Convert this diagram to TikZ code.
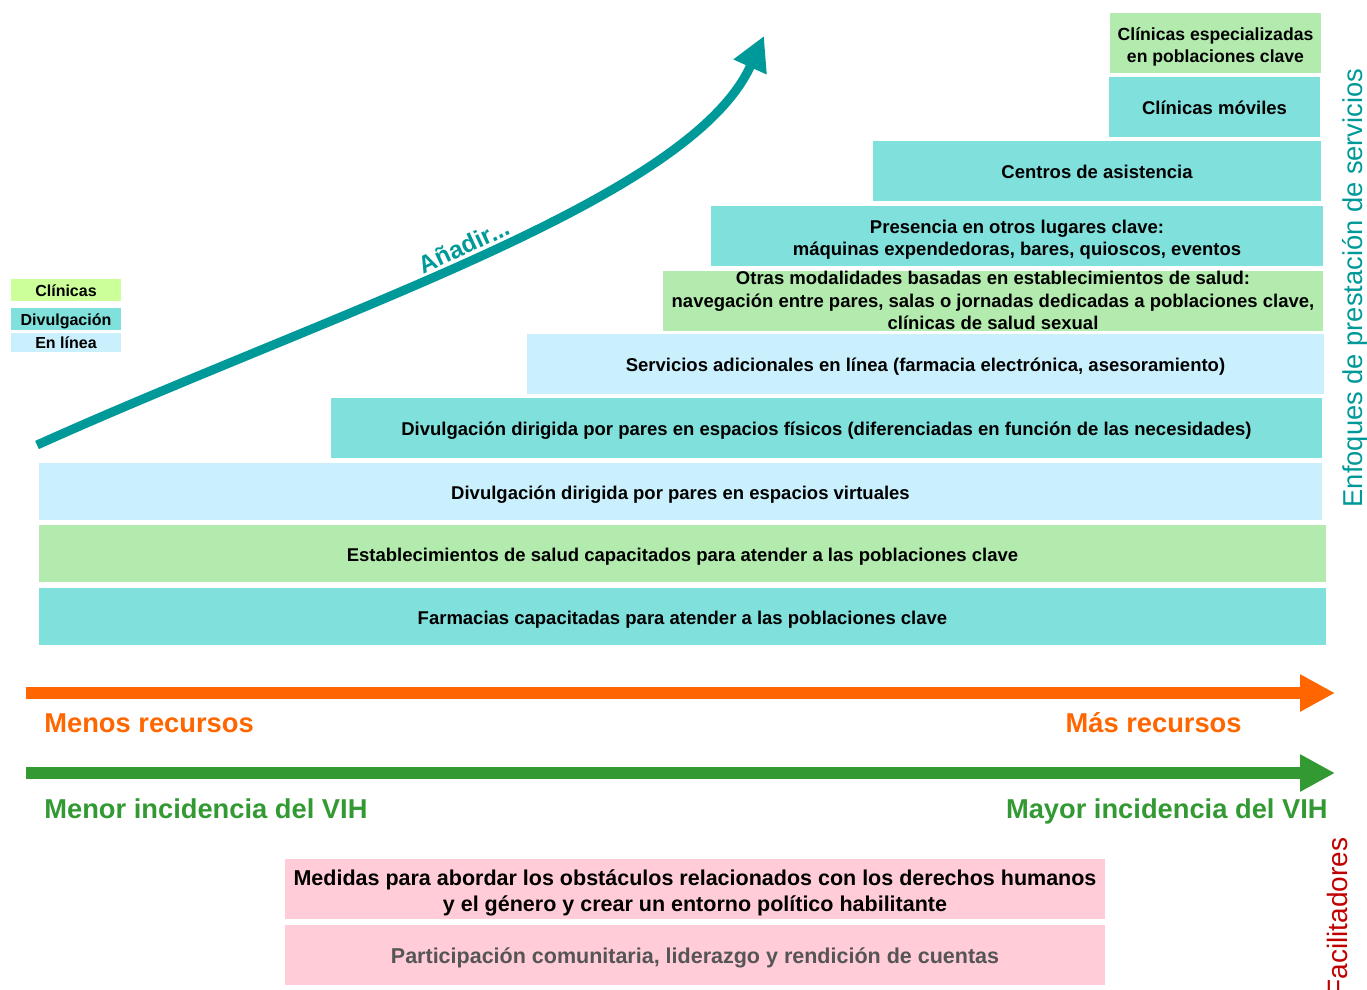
\documentclass[tikz,border=0pt]{standalone}
\usepackage{fontspec}
\setmainfont{Liberation Sans}
\usetikzlibrary{arrows.meta}

\definecolor{turq}{RGB}{128,224,220}
\definecolor{leaf}{RGB}{179,235,174}
\definecolor{sky}{RGB}{202,240,253}
\definecolor{lime}{RGB}{204,255,153}
\definecolor{blush}{RGB}{255,204,216}
\definecolor{teal}{RGB}{0,153,153}
\definecolor{tangerine}{RGB}{255,102,0}
\definecolor{grass}{RGB}{51,153,51}
\definecolor{crimson}{RGB}{192,0,0}

\tikzset{every picture/.style={line width=0.75pt}}
\tikzset{
  tier/.style={inner sep=0pt, align=center, font=\bfseries\fontsize{18.5}{22.5}\selectfont},
  oneline/.style={text height=15pt, text depth=0pt},
  key/.style={inner sep=0pt, minimum width=110pt, text height=12pt, text depth=0pt, font=\bfseries\fontsize{16}{19}\selectfont},
  enabler/.style={inner sep=0pt, align=center, fill=blush, minimum width=820pt, minimum height=60pt, text depth=0pt, font=\bfseries\fontsize{21.5}{26}\selectfont},
  scale label/.style={inner sep=0pt, font=\bfseries\fontsize{27.3}{32}\selectfont},
  bigarrow/.style={line width=12pt, -{Triangle[length=35pt,width=35pt]}}
}

\begin{document}
\begin{tikzpicture}[x=1pt,y=1pt,yscale=-1,xscale=1]
\useasboundingbox (0,0) rectangle (1367,989);

%Shape: Rectangle [tiers, bottom to top]
\node[tier, oneline, fill=turq, minimum width=1287pt, minimum height=57pt] (farmacias) at (682.5,616.5) {Farmacias capacitadas para atender a las poblaciones clave};
\node[tier, oneline, fill=leaf, minimum width=1287pt, minimum height=57pt] (establecimientos) at (682.5,553.5) {Establecimientos de salud capacitados para atender a las poblaciones clave};
\node[tier, oneline, fill=sky, minimum width=1283pt, minimum height=57pt] (virtuales) at (680.5,491.5) {Divulgación dirigida por pares en espacios virtuales};
\node[tier, oneline, fill=turq, minimum width=991pt, minimum height=60pt] (fisicos) at (826.5,428) {Divulgación dirigida por pares en espacios físicos (diferenciadas en función de las necesidades)};
\node[tier, oneline, fill=sky, minimum width=797pt, minimum height=60pt] (enlinea) at (925.5,364) {Servicios adicionales en línea (farmacia electrónica, asesoramiento)};
\node[tier, fill=leaf, minimum width=660pt, minimum height=60pt] (otras) at (993,300.5) {Otras modalidades basadas en establecimientos de salud:\\navegación entre pares, salas o jornadas dedicadas a poblaciones clave,\\clínicas de salud sexual};
\node[tier, fill=turq, minimum width=612pt, minimum height=60pt, text height=39pt, text depth=0pt] (presencia) at (1017,236) {Presencia en otros lugares clave:\\máquinas expendedoras, bares, quioscos, eventos};
\node[tier, oneline, fill=turq, minimum width=448pt, minimum height=60pt] (centros) at (1097,171) {Centros de asistencia};
\node[tier, oneline, fill=turq, minimum width=211pt, minimum height=60pt] (moviles) at (1214.5,107) {Clínicas móviles};
\node[tier, fill=leaf, minimum width=211pt, minimum height=60pt, font=\bfseries\fontsize{17.6}{22}\selectfont, text height=39pt, text depth=0pt] (especializadas) at (1215.5,43) {Clínicas especializadas\\en poblaciones clave};

%Shape: Rectangle [legend]
\node[key, fill=lime, minimum height=22pt] (keyclin) at (66,290) {Clínicas};
\node[key, fill=turq, minimum height=22pt] (keydiv) at (66,319) {Divulgación};
\node[key, fill=sky, minimum height=19pt] (keyweb) at (66,342.5) {En línea};

%Curve Lines [growth]
\coordinate (risestart) at (37,445);
\coordinate (riseend) at (764,36);
\draw[teal, line width=9pt, -{Triangle[length=34pt,width=34pt]}] (risestart) .. controls (337,310) and (690,200) .. (riseend);
% Text Node
\node[teal, rotate=25, inner sep=0pt, font=\bfseries\fontsize{24.5}{28}\selectfont] (anadir) at (464,246) {Añadir...};

%Straight Lines [resources]
\coordinate (resfrom) at (26,693);
\coordinate (resto) at (1335,693);
\draw[bigarrow, tangerine] (resfrom) -- (resto);
% Text Node
\node[scale label, tangerine, anchor=base west] (menosrec) at (44,732) {Menos recursos};
% Text Node
\node[scale label, tangerine, anchor=base east] (masrec) at (1242,732) {Más recursos};

%Straight Lines [incidence]
\coordinate (incfrom) at (26,773);
\coordinate (incto) at (1335,773);
\draw[bigarrow, grass] (incfrom) -- (incto);
% Text Node
\node[scale label, grass, anchor=base west] (menorinc) at (44,818) {Menor incidencia del VIH};
% Text Node
\node[scale label, grass, anchor=base east] (mayorinc) at (1328,818) {Mayor incidencia del VIH};

%Shape: Rectangle [enablers]
\node[enabler, text height=45pt] (medidas) at (695,889) {Medidas para abordar los obstáculos relacionados con los derechos humanos\\y el género y crear un entorno político habilitante};
\node[enabler, text height=17pt, text={rgb,255:red,85;green,85;blue,85}] (participacion) at (695,955) {Participación comunitaria, liderazgo y rendición de cuentas};

% Text Node
\node[teal, rotate=90, anchor=base, inner sep=0pt, font=\fontsize{27.3}{32}\selectfont] (enfoques) at (1362,288) {Enfoques de prestación de servicios};
% Text Node
\node[crimson, rotate=90, anchor=base, inner sep=0pt, font=\fontsize{28}{32}\selectfont] (facilitadores) at (1347,917) {Facilitadores};

\end{tikzpicture}
\end{document}
